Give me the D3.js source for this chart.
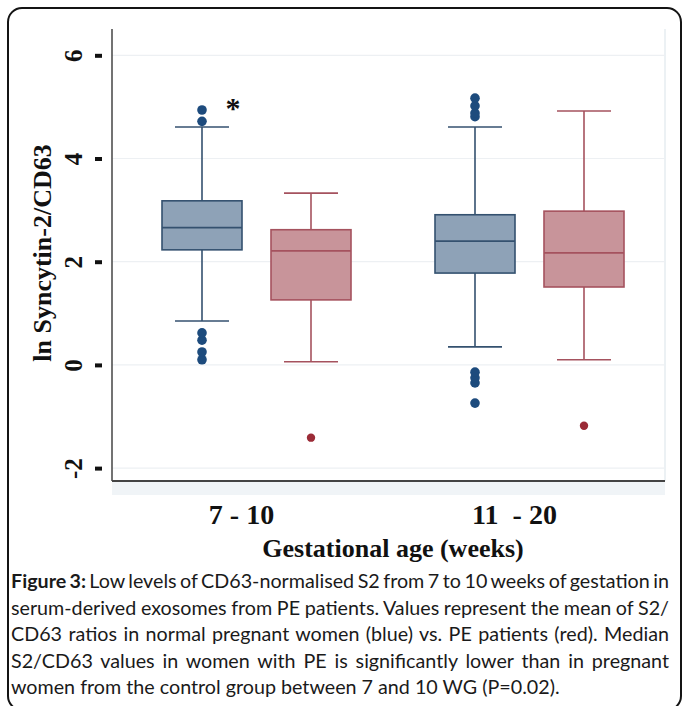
<!DOCTYPE html>
<html>
<head>
<meta charset="utf-8">
<script src="https://cdn.jsdelivr.net/npm/d3@7"></script>
<style>
  html, body { margin: 0; padding: 0; background: #fff; }
  svg { display: block; }
</style>
</head>
<body>
<svg id="chart" width="683" height="706"></svg>
<script>
// groups on the x axis and the two series inside each group
const groups = ['7 - 10', '11 - 20'];
const groupLabels = ['7 - 10', '11  - 20'];
const series = ['control', 'PE'];

// box stats, order: 7-10 control, 7-10 PE, 11-20 control, 11-20 PE
const whiskerLow = [0.85, 0.06, 0.35, 0.10];
const q1 = [2.23, 1.26, 1.78, 1.51];
const median = [2.66, 2.21, 2.40, 2.17];
const q3 = [3.18, 2.62, 2.91, 2.98];
const whiskerHigh = [4.61, 3.33, 4.61, 4.92];
const outliers = [
    [0.10, 0.25, 0.48, 0.62, 4.72, 4.94],
    [-1.41],
    [-0.74, -0.35, -0.25, -0.14, 4.81, 4.88, 5.02, 5.17],
    [-1.18]
];
const yTicks = [-2, 0, 2, 4, 6];

const captionLines = [
    'Low levels of CD63-normalised S2 from 7 to 10 weeks of gestation in',
    'serum-derived exosomes from PE patients. Values represent the mean of S2/',
    'CD63 ratios in normal pregnant women (blue) vs. PE patients (red). Median',
    'S2/CD63 values in women with PE is significantly lower than in pregnant',
    'women from the control group between 7 and 10 WG (P=0.02).'
];

const svg = d3.select('#chart');
const serif = '"Liberation Serif", "Times New Roman", serif';

// frame round the figure
svg.append('rect')
    .attr('x', 8).attr('y', 8)
    .attr('width', 673).attr('height', 702)
    .attr('rx', 14)
    .attr('fill', 'none')
    .attr('stroke', '#141414')
    .attr('stroke-width', 2);

//#region scales
const plot = { left: 112, right: 665, top: 29, bottom: 481 };

let yScale = d3.scaleLinear()
    .domain([-2.25, 6.51])
    .range([plot.bottom, plot.top]);

let xGroup = d3.scaleBand()
    .domain(groups)
    .range([120, 666]);

let xSeries = d3.scalePoint()
    .domain(series)
    .range([82, 191]);

const boxW = 80;
const capW = 54;
//#endregion

// light band under the axis and faint plot border
svg.append('rect')
    .attr('x', plot.left).attr('y', plot.bottom + 1)
    .attr('width', plot.right - plot.left).attr('height', 13)
    .attr('fill', '#f0f4f7');
svg.append('line')
    .attr('x1', plot.right).attr('x2', plot.right)
    .attr('y1', plot.top).attr('y2', plot.bottom)
    .attr('stroke', '#e6ecf1').attr('stroke-width', 1.5);

// gridlines
svg.append('g')
    .selectAll('line')
    .data(yTicks)
    .enter()
    .append('line')
    .attr('x1', plot.left).attr('x2', plot.right)
    .attr('y1', d => yScale(d)).attr('y2', d => yScale(d))
    .attr('stroke', '#edf0f3')
    .attr('stroke-width', 1.2);

//#region y axis
let yAxis = d3.axisLeft(yScale)
    .tickValues(yTicks)
    .tickSize(7)
    .tickFormat(d => String(d));

const yAxisGroup = svg.append('g')
    .attr('transform', 'translate(102,0)')
    .call(yAxis);
yAxisGroup.select('.domain').remove();
yAxisGroup.selectAll('.tick line')
    .attr('stroke', '#111')
    .attr('stroke-width', 4);
yAxisGroup.selectAll('.tick text')
    .attr('transform', 'rotate(-90)')
    .attr('x', 0)
    .attr('y', -20)
    .attr('dy', 0)
    .attr('text-anchor', 'middle')
    .attr('fill', '#111')
    .style('font-family', serif)
    .style('font-weight', 'bold')
    .style('font-size', '25px');

svg.append('line')
    .attr('x1', plot.left).attr('x2', plot.left)
    .attr('y1', plot.top).attr('y2', plot.bottom)
    .attr('stroke', '#444').attr('stroke-width', 1.5);
svg.append('line')
    .attr('x1', plot.left).attr('x2', plot.right)
    .attr('y1', plot.bottom).attr('y2', plot.bottom)
    .attr('stroke', '#444').attr('stroke-width', 1.8);

svg.append('text')
    .attr('transform', 'translate(51,253) rotate(-90)')
    .attr('text-anchor', 'middle')
    .attr('fill', '#111')
    .style('font-family', serif)
    .style('font-weight', 'bold')
    .style('font-size', '26px')
    .text('ln Syncytin-2/CD63');
//#endregion

//#region boxes
const colours = {
    control: { fill: '#8ea2b7', stroke: '#34516f', dot: '#1d4b7d', r: 4.8 },
    PE: { fill: '#c8949a', stroke: '#a5525e', dot: '#9b2b37', r: 4.2 }
};

let boxes = [];
groups.forEach((g, gi) => {
    series.forEach((s, si) => {
        const i = gi * series.length + si;
        boxes.push({
            group: g, series: s,
            lo: whiskerLow[i], q1: q1[i], med: median[i], q3: q3[i], hi: whiskerHigh[i],
            out: outliers[i]
        });
    });
});

const boxGroups = svg.append('g')
    .selectAll('g')
    .data(boxes)
    .enter()
    .append('g')
    .attr('transform', d => `translate(${xGroup(d.group) + xSeries(d.series)},0)`);

// whisker stems
boxGroups.append('line')
    .attr('x1', 0).attr('x2', 0)
    .attr('y1', d => yScale(d.hi)).attr('y2', d => yScale(d.lo))
    .attr('stroke', d => colours[d.series].stroke)
    .attr('stroke-width', 1.6);
// caps
['hi', 'lo'].forEach(k => {
    boxGroups.append('line')
        .attr('x1', -capW / 2).attr('x2', capW / 2)
        .attr('y1', d => yScale(d[k])).attr('y2', d => yScale(d[k]))
        .attr('stroke', d => colours[d.series].stroke)
        .attr('stroke-width', 1.6);
});
boxGroups.append('rect')
    .attr('x', -boxW / 2)
    .attr('width', boxW)
    .attr('y', d => yScale(d.q3))
    .attr('height', d => yScale(d.q1) - yScale(d.q3))
    .attr('fill', d => colours[d.series].fill)
    .attr('stroke', d => colours[d.series].stroke)
    .attr('stroke-width', 1.6);
boxGroups.append('line')
    .attr('x1', -boxW / 2).attr('x2', boxW / 2)
    .attr('y1', d => yScale(d.med)).attr('y2', d => yScale(d.med))
    .attr('stroke', d => colours[d.series].stroke)
    .attr('stroke-width', 1.8);
boxGroups.selectAll('circle')
    .data(d => d.out.map(v => ({ v: v, s: d.series })))
    .enter()
    .append('circle')
    .attr('cx', 0)
    .attr('cy', d => yScale(d.v))
    .attr('r', d => colours[d.s].r)
    .attr('fill', d => colours[d.s].dot);
//#endregion

// significance star next to the first control box
svg.append('text')
    .attr('x', xGroup(groups[0]) + xSeries(series[0]) + 31)
    .attr('y', yScale(4.78))
    .attr('text-anchor', 'middle')
    .attr('fill', '#111')
    .style('font-family', serif)
    .style('font-weight', 'bold')
    .style('font-size', '30px')
    .text('*');

//#region x labels
svg.append('g')
    .selectAll('text')
    .data(groups)
    .enter()
    .append('text')
    .attr('x', d => xGroup(d) + xGroup.bandwidth() / 2 - 15)
    .attr('y', 524)
    .attr('text-anchor', 'middle')
    .attr('fill', '#111')
    .style('white-space', 'pre')
    .style('font-family', serif)
    .style('font-weight', 'bold')
    .style('font-size', '28px')
    .text((d, i) => groupLabels[i]);

svg.append('text')
    .attr('x', 393)
    .attr('y', 557)
    .attr('text-anchor', 'middle')
    .attr('fill', '#111')
    .style('font-family', serif)
    .style('font-weight', 'bold')
    .style('font-size', '26px')
    .text('Gestational age (weeks)');
//#endregion

//#region caption, justified
const capFont = 'Lato, "Open Sans", sans-serif';
const capLeft = 11, capRight = 669;
const caption = svg.append('g');

// size the font so the last (free) line is as wide as in the figure
let probe = caption.append('text')
    .style('font-family', capFont).style('font-size', '20px')
    .text(captionLines[4]);
let fs = 20 * 549 / probe.node().getComputedTextLength();
probe.remove();

captionLines.forEach((line, li) => {
    const y = 588 + li * 26.5;
    const words = line.split(' ');
    const t = caption.append('text')
        .attr('y', y)
        .attr('fill', '#1a1a1a')
        .style('font-family', capFont)
        .style('font-size', fs + 'px');
    if (li === 0) {
        t.append('tspan').style('font-weight', 'bold').text('Figure 3: ');
    }
    t.append('tspan').text(line);
    t.attr('x', capLeft);
    if (li < captionLines.length - 1) {
        const natural = t.node().getComputedTextLength();
        const gaps = words.length - 1 + (li === 0 ? 2 : 0);
        const extra = (capRight - capLeft - natural) / gaps;
        t.style('word-spacing', extra + 'px');
    }
});
//#endregion
</script>
</body>
</html>
